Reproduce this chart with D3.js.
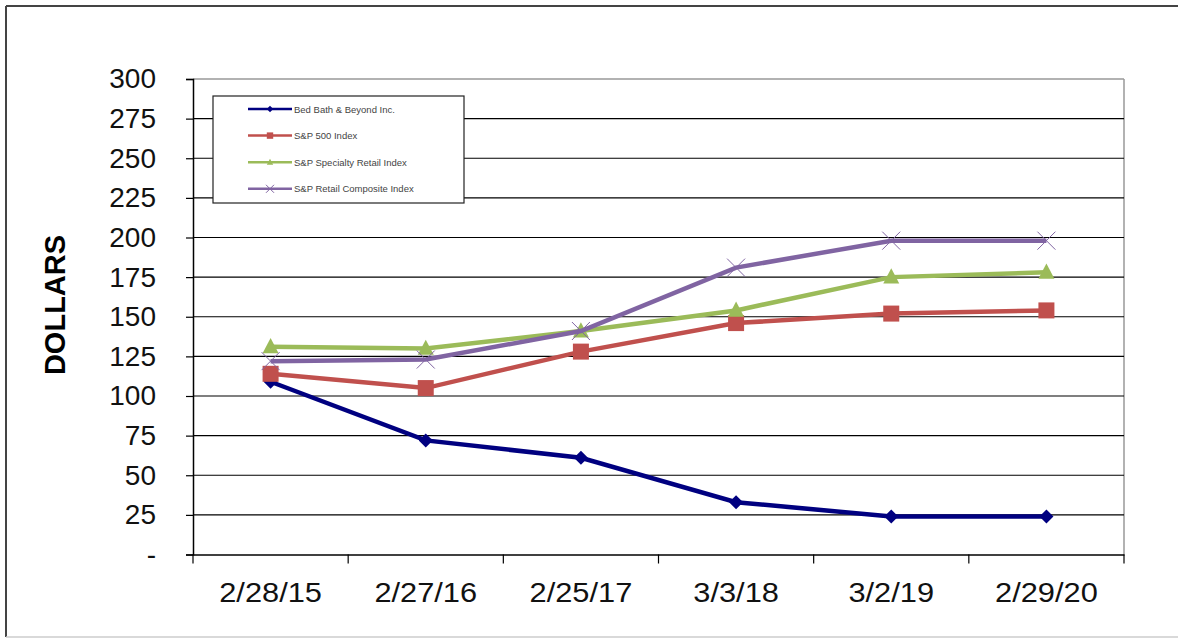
<!DOCTYPE html>
<html>
<head>
<meta charset="utf-8">
<script src="https://cdn.jsdelivr.net/npm/d3@7"></script>
<style>
  body { margin: 0; background: #fff; }
  svg { display: block; font-family: "Liberation Sans", Arial, sans-serif; }
</style>
</head>
<body>
<svg width="1178" height="642"></svg>
<script>
// data
const dates = ["2/28/15", "2/27/16", "2/25/17", "3/3/18", "3/2/19", "2/29/20"];
const bbby = [109, 72, 61, 33, 24, 24];
const sp500 = [114, 105, 128, 146, 152, 154];
const specialty = [131, 130, 141, 154, 175, 178];
const composite = [122, 123, 141, 181, 198, 198];
const yTicks = [0, 25, 50, 75, 100, 125, 150, 175, 200, 225, 250, 275, 300];

const series = [
    {name: "Bed Bath & Beyond Inc.", values: bbby, color: "#000080", marker: "diamond"},
    {name: "S&P 500 Index", values: sp500, color: "#C0504D", marker: "square"},
    {name: "S&P Specialty Retail Index", values: specialty, color: "#9BBB59", marker: "triangle"},
    {name: "S&P Retail Composite Index", values: composite, color: "#8064A2", marker: "cross"}
];

const svg = d3.select("svg");
const plotLeft = 193, plotRight = 1124, plotTop = 79, plotBottom = 554.5;

// outer frame
svg.append("line").attr("x1", 6).attr("x2", 1178).attr("y1", 6).attr("y2", 6)
    .attr("stroke", "#444").attr("stroke-width", 2);
svg.append("line").attr("x1", 6).attr("x2", 6).attr("y1", 6).attr("y2", 637)
    .attr("stroke", "#444").attr("stroke-width", 2);
svg.append("line").attr("x1", 6).attr("x2", 1178).attr("y1", 637).attr("y2", 637)
    .attr("stroke", "#ccc").attr("stroke-width", 1.5);

const x = d3.scaleBand().domain(dates).range([plotLeft, plotRight]);
const y = d3.scaleLinear().domain([0, 300]).range([plotBottom, plotTop]);

// plot border (light grey top/right)
svg.append("line").attr("x1", plotLeft).attr("x2", plotRight).attr("y1", plotTop).attr("y2", plotTop)
    .attr("stroke", "#999").attr("stroke-width", 1.5);
svg.append("line").attr("x1", plotRight).attr("x2", plotRight).attr("y1", plotTop).attr("y2", plotBottom)
    .attr("stroke", "#999").attr("stroke-width", 1.5);

// gridlines
svg.append("g").selectAll("line")
    .data(yTicks.filter(d => d > 0 && d < 300))
    .enter().append("line")
    .attr("x1", plotLeft).attr("x2", plotRight)
    .attr("y1", d => y(d)).attr("y2", d => y(d))
    .attr("stroke", "#000").attr("stroke-width", 1.2);

// y axis
const yAxis = svg.append("g")
    .attr("transform", `translate(${plotLeft},0)`)
    .call(d3.axisLeft(y).tickValues(yTicks).tickSize(7).tickPadding(8)
        .tickFormat(d => d === 0 ? "-" : d));
yAxis.select(".domain").attr("stroke", "#000").attr("stroke-width", 1.5);
yAxis.selectAll(".tick line").attr("stroke", "#000").attr("stroke-width", 1.2);
yAxis.selectAll(".tick text")
    .attr("x", -37)
    .style("font-size", "28px").attr("fill", "#111");

// x axis
const xAxis = svg.append("g")
    .attr("transform", `translate(0,${plotBottom})`)
    .call(d3.axisBottom(x).tickSize(0).tickPadding(28));
xAxis.select(".domain").attr("stroke", "#000").attr("stroke-width", 1.5);
xAxis.selectAll(".tick text")
    .attr("transform", "scale(1.1,1)")
    .style("font-size", "28px").attr("fill", "#111");
xAxis.selectAll(".boundary")
    .data(d3.range(dates.length + 1))
    .enter().append("line")
    .attr("class", "boundary")
    .attr("x1", i => plotLeft + i * x.step()).attr("x2", i => plotLeft + i * x.step())
    .attr("y1", 0).attr("y2", 9)
    .attr("stroke", "#000").attr("stroke-width", 1.2);

// y title
svg.append("text")
    .attr("transform", "translate(65,305) rotate(-90)")
    .attr("text-anchor", "middle")
    .style("font-size", "29px").style("font-weight", "bold")
    .text("DOLLARS");

function drawMarker(g, type, color, s) {
    if (type === "diamond") {
        g.append("path").attr("d", `M0,${-s}L${s},0L0,${s}L${-s},0Z`).attr("fill", color);
    } else if (type === "square") {
        g.append("rect").attr("x", -s).attr("y", -s).attr("width", 2 * s).attr("height", 2 * s)
            .attr("fill", color);
    } else if (type === "triangle") {
        g.append("path").attr("d", `M0,${-s * 1.1}L${s},${s * 0.8}L${-s},${s * 0.8}Z`).attr("fill", color);
    } else {
        g.append("path").attr("d", `M${-s},${-s}L${s},${s}M${s},${-s}L${-s},${s}`)
            .attr("stroke", color).attr("stroke-width", 1).attr("fill", "none");
    }
}

const line = d3.line()
    .x((d, i) => x(dates[i]) + x.bandwidth() / 2)
    .y(d => y(d));

const sizes = {diamond: 7, square: 8, triangle: 8, cross: 9};

series.forEach(s => {
    svg.append("path")
        .datum(s.values)
        .attr("fill", "none")
        .attr("stroke", s.color)
        .attr("stroke-width", 4.5)
        .attr("d", line);
    s.values.forEach((v, i) => {
        const g = svg.append("g")
            .attr("transform", `translate(${x(dates[i]) + x.bandwidth() / 2},${y(v)})`);
        drawMarker(g, s.marker, s.color, sizes[s.marker]);
    });
});

// legend
const legend = svg.append("g").attr("transform", "translate(213,96)");
legend.append("rect").attr("width", 251).attr("height", 107)
    .attr("fill", "#fff").attr("stroke", "#222").attr("stroke-width", 1.2);
series.forEach((s, i) => {
    const row = legend.append("g").attr("transform", `translate(0,${13 + i * 26.6})`);
    row.append("line").attr("x1", 35).attr("x2", 79).attr("y1", 0).attr("y2", 0)
        .attr("stroke", s.color).attr("stroke-width", 2.5);
    const m = row.append("g").attr("transform", "translate(57,0)");
    drawMarker(m, s.marker, s.color, s.marker === "cross" ? 4 : 3.2);
    row.append("text")
        .attr("x", 81).attr("y", 3.5)
        .style("font-size", "9.5px").attr("fill", "#444")
        .text(s.name);
});
</script>
</body>
</html>
